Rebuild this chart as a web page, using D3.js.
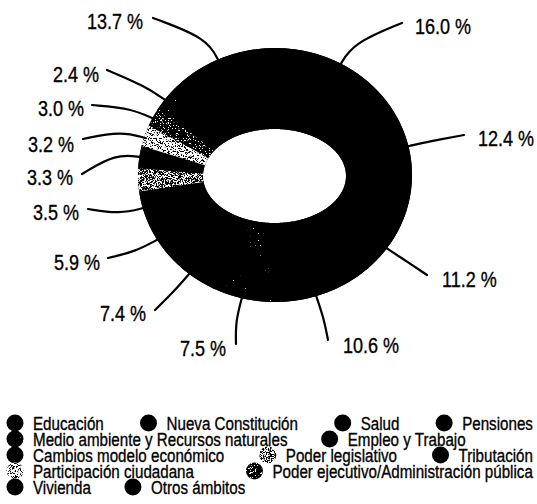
<!DOCTYPE html>
<html><head><meta charset="utf-8">
<script src="https://cdn.jsdelivr.net/npm/d3@7"></script>
<style>
html,body{margin:0;padding:0;background:#fff;}
svg{display:block;}
text{font-family:"Liberation Sans","Arial",sans-serif;fill:#000;stroke:#000;stroke-width:0.35px;}
</style></head><body>
<svg id="chart" width="537" height="504"></svg>
<script>
// ---------- data ----------
const categories = ["Educación","Nueva Constitución","Salud","Pensiones",
  "Medio ambiente y Recursos naturales","Empleo y Trabajo","Cambios modelo económico",
  "Poder legislativo","Tributación","Participación ciudadana",
  "Poder ejecutivo/Administración pública","Vivienda","Otros ámbitos"];
const values = [16.0,12.4,11.2,10.6,7.5,7.4,5.9,3.5,3.3,3.2,3.0,2.4,13.7];
const valueLabels = values.map(v => v.toFixed(1) + " %");
const textureKeys = ["solid","solid","solid","solid","sparse","solid","solid","medium","solid","light","dark","sparse","solid"];

// ---------- layout ----------
const labelPos = [[415,26],[478,138],[442,279],[343,345],[180,348],[100,313],[54,262],[33,212],[27,177],[28,144],[38,108],[53,74],[87,21]];
const leaderStart = [[402,23],[464,135],[427,275],[328,340],[236,344],[155,310],[108,258],[88,209],[82,174],[83,139],[92,105],[107,70],[153,18]];
const leaderNudgeDeg = [0,-3,3,1,0,-2,-9,-13,0,-1,-1,0,0];
const legendRows = [[0,1,2,3],[4,5],[6,7,8],[9,10],[11,12]];
const justifyRow = [true,false,true,true,false];
const narrow = 0.82;

const svg = d3.select("#chart");
const O = {cx:275, cy:175, rx:137, ry:127};
const I = {cx:274.5, cy:176, rx:71.5, ry:47};
const deg = Math.PI/180;

// textures
const defs = svg.append("defs");
const thresholds = {light:0.42, medium:0.48, dark:0.6, sparse:0.74};
Object.entries(thresholds).forEach(([k,t]) => {
  const f = defs.append("filter").attr("id","tx-"+k)
    .attr("x",0).attr("y",0).attr("width",1).attr("height",1)
    .attr("color-interpolation-filters","sRGB");
  f.append("feTurbulence").attr("type","fractalNoise").attr("baseFrequency",1.4)
    .attr("numOctaves",1).attr("seed",7).attr("result","n");
  f.append("feColorMatrix").attr("in","n").attr("type","matrix")
    .attr("values","1 0 0 0 0 1 0 0 0 0 1 0 0 0 0 0 0 0 0 1").attr("result","g");
  const ct = f.append("feComponentTransfer").attr("in","g").attr("result","bw");
  const slope = 25;
  ["feFuncR","feFuncG","feFuncB"].forEach(fn => ct.append(fn).attr("type","linear")
    .attr("slope",slope).attr("intercept",-slope*t));
  f.append("feComposite").attr("in","bw").attr("in2","SourceGraphic").attr("operator","in");
});

// pie angles
const arcs = d3.pie().sort(null).value(d => d)(values);
const warp = d3.scaleLinear()
  .domain([0, arcs[6].startAngle, arcs[7].startAngle, arcs[11].startAngle, 2*Math.PI])
  .range([0, arcs[6].startAngle, arcs[7].startAngle + 7.2*deg, arcs[11].startAngle, 2*Math.PI]);

const pt = (E, a) => [E.cx + E.rx*Math.sin(a), E.cy - E.ry*Math.cos(a)];
function ringPath(a0, a1){
  const n = Math.max(2, Math.ceil(Math.abs(a1-a0)/deg));
  const pts = [];
  for (let i=0;i<=n;i++) pts.push(pt(O, a0+(a1-a0)*i/n));
  for (let i=n;i>=0;i--) pts.push(pt(I, a0+(a1-a0)*i/n));
  return d3.line().curve(d3.curveLinearClosed)(pts);
}

const g = svg.append("g");
g.append("path").attr("d", ringPath(0, 2*Math.PI)).attr("fill","#000");
g.selectAll("path.slice").data(arcs).join("path").attr("class","slice")
  .attr("d", d => ringPath(warp(d.startAngle), warp(d.endAngle)))
  .attr("fill","#000")
  .attr("filter", (d,i) => textureKeys[i] === "solid" ? null : `url(#tx-${textureKeys[i]})`);

// leaders
const lineGen = d3.line().curve(d3.curveBasis);
g.selectAll("path.leader").data(arcs).join("path").attr("class","leader")
  .attr("d", (d,i) => {
    const a = warp((d.startAngle+d.endAngle)/2) + leaderNudgeDeg[i]*deg;
    const e = pt(O, a);
    let dx = O.rx*Math.sin(a), dy = -O.ry*Math.cos(a);
    const L = Math.hypot(dx,dy); dx/=L; dy/=L;
    const end = [e[0]-dx*2, e[1]-dy*2];
    const knee = [e[0]+dx*24, e[1]+dy*24];
    return lineGen([leaderStart[i], knee, end]);
  })
  .attr("fill","none").attr("stroke","#000").attr("stroke-width",2.2).attr("stroke-linecap","round");

// value labels
svg.append("g").selectAll("text").data(valueLabels).join("text")
  .attr("transform", (d,i) => `translate(${labelPos[i][0]},${labelPos[i][1] + 8}) scale(${narrow},1)`)
  .attr("font-size", 22)
  .text(d => d);

// legend (flow layout, some rows justified to full width)
const L0 = 15, R1 = 533, circR = 8.5, txtOff = 18, gapDefault = 42, fs = 18.5;
const rowY = r => 423 + 16*r;
const lg = svg.append("g");
const texts = lg.selectAll("text").data(categories).join("text")
  .attr("font-size", fs).text(d => d);
const widths = [];
texts.each(function(d,i){ widths[i] = this.getComputedTextLength()*narrow; });
const cxs = [];
legendRows.forEach((row, r) => {
  const used = row.reduce((s,i) => s + txtOff + widths[i], 0);
  const gap = (justifyRow[r] && row.length > 1) ? (R1 - L0 - used)/(row.length-1) : gapDefault;
  let x = L0;
  row.forEach(i => { cxs[i] = [x, r]; x += txtOff + widths[i] + gap; });
});
texts.attr("transform", (d,i) => `translate(${cxs[i][0]+txtOff},${rowY(cxs[i][1]) + 6.5}) scale(${narrow},1)`);
lg.selectAll("circle").data(categories).join("circle")
  .attr("cx", (d,i) => cxs[i][0])
  .attr("cy", (d,i) => rowY(cxs[i][1]))
  .attr("r", circR).attr("fill","#000")
  .attr("filter", (d,i) => textureKeys[i] === "solid" ? null : `url(#tx-${textureKeys[i]})`);
</script>
</body></html>
